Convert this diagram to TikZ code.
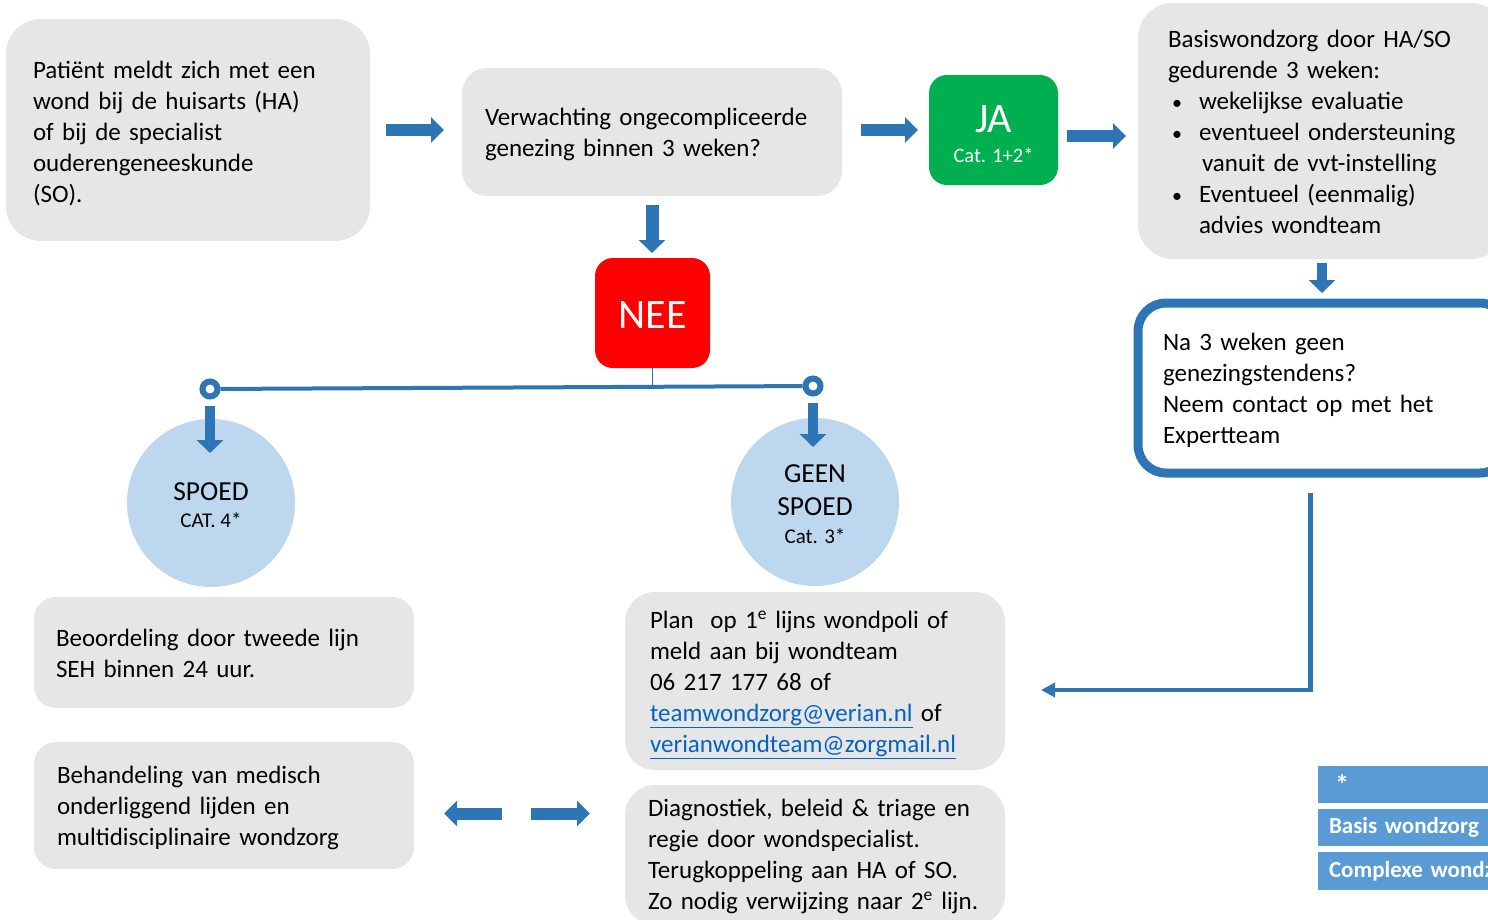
\documentclass[tikz,border=0pt]{standalone}
\usepackage{fontspec}
\setmainfont{Carlito}
\usetikzlibrary{arrows.meta}
\definecolor{boxgray}{HTML}{E7E6E6}
\definecolor{arrowblue}{HTML}{2E75B6}
\definecolor{jagreen}{HTML}{00B050}
\definecolor{neered}{HTML}{FF0000}
\definecolor{circblue}{HTML}{BDD7EE}
\definecolor{tabblue}{HTML}{5B9BD5}
\definecolor{linkblue}{HTML}{0563C1}
\newcommand{\mylink}[1]{{\color{linkblue}\underline{#1}}}
\newcommand{\mybullet}{\hspace*{4pt}\makebox[27pt][l]{\fontsize{20}{20}\selectfont•}}
\newcommand{\tstrut}[1]{\rule{0pt}{#1}}
\begin{document}
\begin{tikzpicture}[x=1pt,y=-1pt,
  txt/.style={font=\fontsize{25}{31}\selectfont},
  graybox/.style={fill=boxgray, anchor=north west, inner ysep=0pt, outer sep=0pt, align=left, txt},
  blockarrow/.style={draw=arrowblue, line width=12pt, -{Triangle[width=25pt,length=13pt]}},
  downarrow/.style={draw=arrowblue, line width=10.5pt, -{Triangle[width=26pt,length=13pt]}},
  thinarrow/.style={draw=arrowblue, line width=4.5pt, -{Triangle[width=14pt,length=14pt]}},
  ringnode/.style={circle, draw=arrowblue, fill=white, line width=6pt, minimum size=15pt, inner sep=0pt},
  bubble/.style={circle, fill=circblue, minimum size=168pt, inner sep=0pt, align=center, font=\fontsize{27.5}{33}\selectfont},
  tabrow/.style={fill=tabblue, anchor=north west, outer sep=0pt, minimum width=250pt, inner xsep=11pt, inner ysep=0pt, text width=228pt, align=left, font=\fontsize{23}{26}\selectfont\bfseries, text=white}
]
\useasboundingbox (0,0) rectangle (1488,919);
\clip (0,0) rectangle (1488,919);

% boxes
\node[graybox, rounded corners=35pt, minimum width=364pt, minimum height=222pt, inner xsep=27pt, text width=310pt] (A) at (6,19)
  {\tstrut{23.5pt}Patiënt meldt zich met een\\ wond bij de huisarts (HA)\\ of bij de specialist\\ ouderengeneeskunde\\ (SO).};
\node[graybox, rounded corners=25pt, minimum width=380pt, minimum height=128pt, inner xsep=23pt, text width=334pt] (B) at (462,68)
  {\tstrut{21.5pt}Verwachting ongecompliceerde\\ genezing binnen 3 weken?};
\node[fill=jagreen, rounded corners=18pt, anchor=north west, outer sep=0pt, minimum width=129pt, minimum height=110pt, inner sep=0pt, align=center, text=white, font=\fontsize{42}{30}\selectfont] (JA) at (929,75)
  {\tstrut{36pt}JA\\{\fontsize{20.5}{24}\selectfont Cat. 1+2*}};
\node[graybox, rounded corners=35pt, minimum width=368pt, minimum height=256pt, inner xsep=30pt, text width=308pt] (C) at (1138,3)
  {\tstrut{19.5pt}Basiswondzorg door HA/SO\\ gedurende 3 weken:\\
   \mybullet wekelijkse evaluatie\\
   \mybullet eventueel ondersteuning\\
   \hspace*{34pt}vanuit de vvt-instelling\\
   \mybullet Eventueel (eenmalig)\\
   \hspace*{31pt}advies wondteam};
\node[fill=neered, rounded corners=18pt, anchor=north west, outer sep=0pt, minimum width=115pt, minimum height=110pt, inner sep=0pt, text=white, font=\fontsize{42}{42}\selectfont] (NEE) at (595,258) {\tstrut{31pt}NEE};
\node[anchor=north west, draw=arrowblue, line width=9pt, fill=white, rounded corners=28pt, outer sep=0pt, minimum width=370pt, minimum height=170pt, inner xsep=25pt, inner ysep=0pt, text width=320pt, align=left, txt] (EXP) at (1138,303)
  {\tstrut{21.5pt}Na 3 weken geen\\ genezingstendens?\\ Neem contact op met het\\ Expertteam};
\node[bubble] (SP) at (211,503) {\tstrut{22.7pt}SPOED\\[-6pt]{\fontsize{21}{24}\selectfont CAT. 4*}};
\node[bubble] (GS) at (815,502) {\tstrut{21.7pt}GEEN\\ SPOED\\[-5pt]{\fontsize{21}{24}\selectfont Cat. 3*}};
\node[graybox, rounded corners=22pt, minimum width=380pt, minimum height=111pt, inner xsep=22pt, text width=336pt] (D) at (34,597)
  {\tstrut{19.5pt}Beoordeling door tweede lijn\\ SEH binnen 24 uur.};
\node[graybox, rounded corners=22pt, minimum width=380pt, minimum height=127pt, inner xsep=23pt, text width=334pt] (E) at (34,742)
  {\tstrut{21.5pt}Behandeling van medisch\\ onderliggend lijden en\\ multidisciplinaire wondzorg};
\node[graybox, rounded corners=30pt, minimum width=380pt, minimum height=178pt, inner xsep=25pt, text width=330pt] (F) at (625,592)
  {\tstrut{25.5pt}Plan\ \ op 1\textsuperscript{e} lijns wondpoli of\\ meld aan bij wondteam\\ 06 217 177 68 of\\ \mylink{teamwondzorg@verian.nl} of\\ \mylink{verianwondteam@zorgmail.nl}};
\node[graybox, rounded corners=30pt, minimum width=380pt, minimum height=140pt, inner xsep=23pt, text width=334pt] (G) at (625,785)
  {\tstrut{19.5pt}Diagnostiek, beleid \& triage en\\ regie door wondspecialist.\\ Terugkoppeling aan HA of SO.\\ Zo nodig verwijzing naar 2\textsuperscript{e} lijn.};

% legend table
\node[tabrow, minimum height=37pt] (T0) at (1318,766) {\hspace*{6pt}{\fontsize{28}{26}\selectfont *}};
\node[tabrow, minimum height=37pt] (T1) at (1318,809) {Basis wondzorg};
\node[tabrow, minimum height=38pt] (T2) at (1318,852) {Complexe wondzorg};

% connectors
\draw[blockarrow, shorten <=16pt, shorten >=18pt] (A.east) -- (A.east -| B.west);
\draw[blockarrow, shorten <=19pt, shorten >=11pt] (JA.west -| B.east) -- (JA.west);
\draw[blockarrow, shorten <=9pt, shorten >=12pt] ([yshift=-6pt]JA.east) -- ([yshift=-6pt]JA.east -| C.west);
\draw[downarrow, line width=13pt, shorten <=9pt, shorten >=5pt] (B.south) -- (B.south |- NEE.north);
\draw[downarrow, shorten <=4pt, shorten >=10pt] (C.south) -- (C.south |- EXP.north);

\node[ringnode] (RL) at (210,389) {};
\node[ringnode] (RR) at (813,386) {};
\draw[arrowblue, line width=4pt] (RL) -- (RR);
\draw[arrowblue, line width=1pt] (NEE.south) -- (NEE.south |- RR);
\coordinate (SPin) at (210,453);
\coordinate (GSin) at (813,447);
\draw[downarrow, shorten <=6pt] (RL.south) -- (SPin);
\draw[downarrow, shorten <=6pt] (RR.south) -- (GSin);

\draw[thinarrow, shorten <=20pt, shorten >=36pt] ([xshift=-12.5pt]EXP.south) |- ([yshift=-9pt]F.east);

\draw[blockarrow, shorten <=117pt, shorten >=35pt] ([yshift=-8pt]E.east) -- ([yshift=-8pt]E.east -| G.west);
\draw[blockarrow, shorten <=123pt, shorten >=30pt] ([yshift=-8pt]E.east -| G.west) -- ([yshift=-8pt]E.east);
\end{tikzpicture}
\end{document}
